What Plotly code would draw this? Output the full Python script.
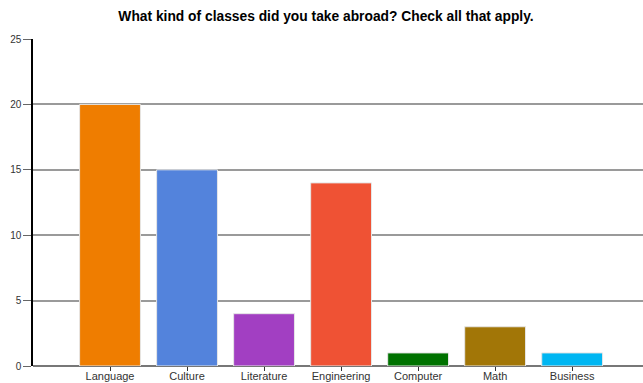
import plotly.graph_objects as go

categories = ["Language", "Culture", "Literature", "Engineering", "Computer", "Math", "Business"]
values = [20, 15, 4, 14, 1, 3, 1]
colors = ["#EF7D00", "#5383DC", "#A23FC2", "#EF5234", "#007200", "#A27607", "#00B6F2"]
y_ticks = [0, 5, 10, 15, 20, 25]

fig = go.Figure()
fig.add_trace(go.Bar(
    x=list(range(len(categories))), y=values,
    marker=dict(color=colors, line=dict(color="#E6E6E6", width=1)),
    width=0.79,
))
fig.update_layout(
    width=643, height=383,
    margin=dict(l=33, r=0, t=39, b=17, autoexpand=False),
    paper_bgcolor="white", plot_bgcolor="white",
    showlegend=False,
    title=dict(text="<b>What kind of classes did you take abroad? Check all that apply.</b>",
               x=0.507, xanchor="center", y=0.958, yanchor="middle",
               font=dict(family="Liberation Sans, Arial", size=13.8, color="#000")),
    font=dict(family="Liberation Sans, Arial", size=10, color="#333"),
)
fig.update_xaxes(
    range=[-1, 6.92], tickmode="array", tickvals=list(range(len(categories))), ticktext=categories,
    showgrid=False, ticks="outside", ticklen=4, tickcolor="#333", showline=False,
    zeroline=False, tickfont=dict(size=11, color="#333"), automargin=False,
    ticklabelstandoff=-4,
)
fig.update_yaxes(
    range=[0, 25], tickvals=y_ticks, showgrid=True, gridcolor="#9A9A9A", gridwidth=2,
    showline=True, linecolor="#000", linewidth=1.5, ticks="outside", ticklen=8, tickcolor="#666",
    zeroline=True, zerolinecolor="#777", zerolinewidth=2, tickfont=dict(size=10, color="#333"),
    automargin=False,
)
fig.write_html("out.html", config={"displayModeBar": False},
               post_script="document.body.style.margin='0';document.body.style.overflow='hidden';")
